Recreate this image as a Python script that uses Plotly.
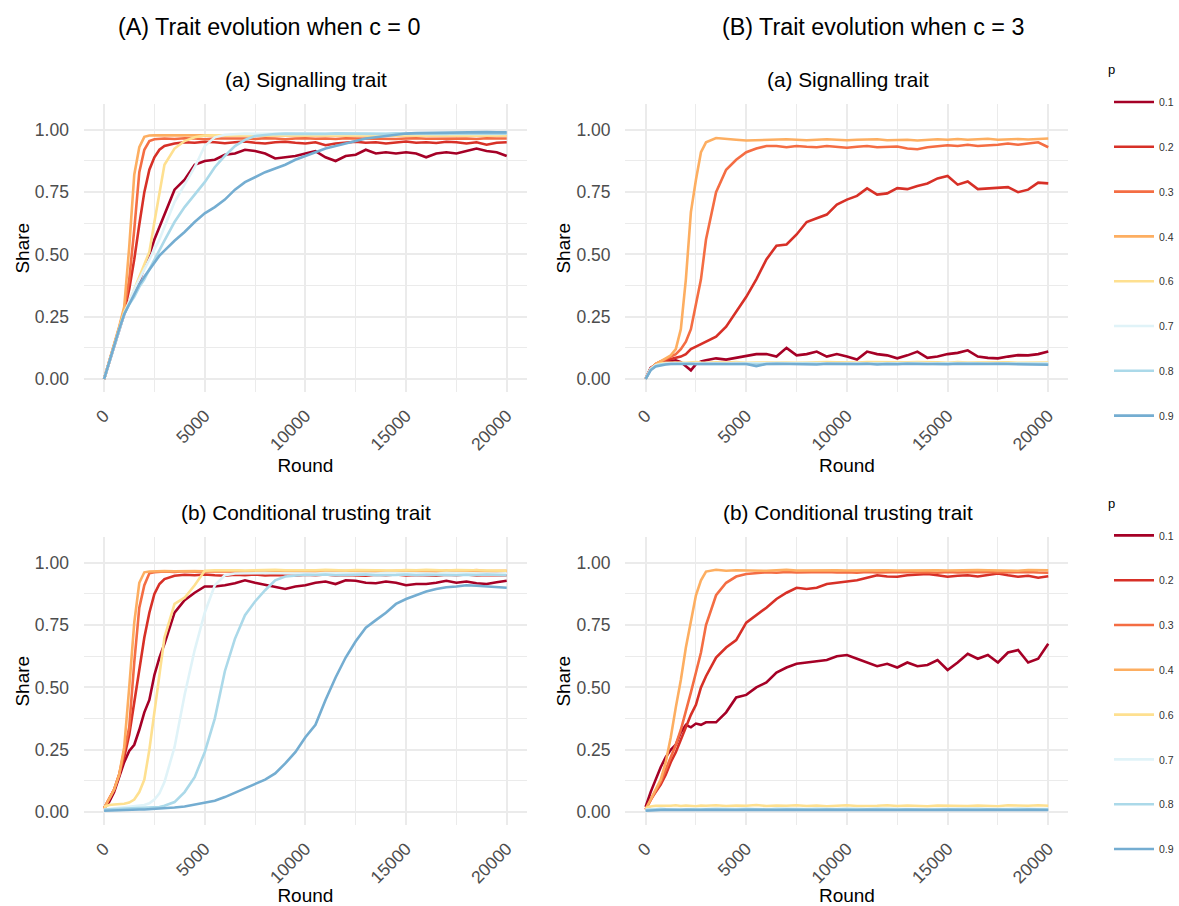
import plotly.graph_objects as go

# ---------------- data ----------------
rounds = [0, 250, 500, 750, 1000, 1250, 1500, 1750, 2000, 2250, 2500, 2750, 3000,
          3500, 4000, 4500, 5000, 5500, 6000, 6500, 7000, 7500, 8000, 8500, 9000, 9500, 10000,
          10500, 11000, 11500, 12000, 12500, 13000, 13500, 14000, 14500, 15000, 15500, 16000,
          16500, 17000, 17500, 18000, 18500, 19000, 19500, 20000]

p_labels = ["0.1", "0.2", "0.3", "0.4", "0.6", "0.7", "0.8", "0.9"]
p_colors = ["#a50026", "#d73027", "#f46d43", "#fdae61", "#fee090", "#e0f3f8", "#abd9e9", "#74add1"]

x_ticks = [0, 5000, 10000, 15000, 20000]
y_ticks = [0.0, 0.25, 0.5, 0.75, 1.0]

# (A)(a) Signalling trait, c = 0
sig_c0_p01 = [0, 0.065, 0.13, 0.195, 0.26, 0.31, 0.35, 0.39, 0.45, 0.5, 0.56, 0.61, 0.66,
              0.76, 0.8, 0.86, 0.875, 0.88, 0.9, 0.905, 0.92, 0.915, 0.905, 0.885, 0.89, 0.895, 0.905,
              0.915, 0.89, 0.875, 0.895, 0.9, 0.92, 0.905, 0.91, 0.905, 0.91, 0.905, 0.89,
              0.905, 0.91, 0.905, 0.915, 0.925, 0.915, 0.91, 0.895]
sig_c0_p02 = [0, 0.066, 0.132, 0.2, 0.27, 0.36, 0.48, 0.62, 0.75, 0.84, 0.89, 0.92, 0.935,
              0.945, 0.95, 0.948, 0.952, 0.95, 0.946, 0.95, 0.953, 0.948, 0.945, 0.95, 0.952, 0.948, 0.945,
              0.95, 0.938, 0.945, 0.95, 0.952, 0.948, 0.95, 0.945, 0.95, 0.953, 0.948, 0.95,
              0.947, 0.952, 0.95, 0.945, 0.95, 0.94, 0.948, 0.95]
sig_c0_p03 = [0, 0.066, 0.135, 0.205, 0.28, 0.4, 0.6, 0.83, 0.92, 0.955, 0.962, 0.965, 0.965,
              0.963, 0.966, 0.965, 0.962, 0.965, 0.966, 0.964, 0.965, 0.963, 0.966, 0.965, 0.962, 0.965, 0.966,
              0.964, 0.965, 0.963, 0.966, 0.965, 0.964, 0.966, 0.965, 0.963, 0.965, 0.966, 0.964,
              0.965, 0.966, 0.964, 0.965, 0.963, 0.966, 0.965, 0.965]
sig_c0_p04 = [0, 0.067, 0.137, 0.21, 0.29, 0.53, 0.82, 0.93, 0.972, 0.977, 0.978, 0.978, 0.977,
              0.978, 0.977, 0.978, 0.978, 0.977, 0.978, 0.977, 0.978, 0.978, 0.977, 0.978, 0.977, 0.978, 0.978,
              0.977, 0.978, 0.977, 0.978, 0.978, 0.977, 0.978, 0.977, 0.978, 0.978, 0.977, 0.978,
              0.977, 0.978, 0.978, 0.977, 0.978, 0.977, 0.978, 0.977]
sig_c0_p06 = [0, 0.066, 0.134, 0.2, 0.27, 0.31, 0.36, 0.41, 0.46, 0.51, 0.63, 0.75, 0.86,
              0.925, 0.955, 0.97, 0.977, 0.978, 0.977, 0.978, 0.977, 0.978, 0.977, 0.976, 0.978, 0.977, 0.978,
              0.977, 0.976, 0.978, 0.977, 0.978, 0.977, 0.976, 0.978, 0.977, 0.978, 0.977, 0.976,
              0.978, 0.977, 0.978, 0.977, 0.976, 0.978, 0.977, 0.977]
sig_c0_p07 = [0, 0.066, 0.133, 0.2, 0.26, 0.31, 0.36, 0.4, 0.44, 0.48, 0.52, 0.56, 0.61,
              0.71, 0.78, 0.85, 0.935, 0.97, 0.98, 0.983, 0.985, 0.984, 0.985, 0.986, 0.985, 0.984, 0.985,
              0.986, 0.985, 0.984, 0.985, 0.986, 0.985, 0.984, 0.985, 0.986, 0.985, 0.984, 0.985,
              0.986, 0.985, 0.984, 0.985, 0.986, 0.985, 0.984, 0.985]
sig_c0_p08 = [0, 0.066, 0.133, 0.2, 0.26, 0.3, 0.33, 0.37, 0.4, 0.44, 0.48, 0.52, 0.555,
              0.63, 0.69, 0.74, 0.79, 0.85, 0.895, 0.935, 0.96, 0.975, 0.98, 0.983, 0.985, 0.984, 0.986,
              0.985, 0.984, 0.986, 0.985, 0.984, 0.986, 0.985, 0.984, 0.986, 0.985, 0.984, 0.986,
              0.985, 0.984, 0.986, 0.985, 0.984, 0.986, 0.985, 0.985]
sig_c0_p09 = [0, 0.068, 0.136, 0.2, 0.26, 0.3, 0.34, 0.38, 0.41, 0.44, 0.47, 0.495, 0.515,
              0.555, 0.59, 0.63, 0.665, 0.69, 0.72, 0.76, 0.79, 0.81, 0.83, 0.845, 0.86, 0.88, 0.895,
              0.91, 0.925, 0.935, 0.945, 0.955, 0.965, 0.97, 0.975, 0.98, 0.985, 0.987, 0.988,
              0.989, 0.99, 0.99, 0.991, 0.99, 0.991, 0.99, 0.99]

# (B)(a) Signalling trait, c = 3
sig_c3_p01 = [0, 0.045, 0.058, 0.065, 0.07, 0.072, 0.075, 0.068, 0.05, 0.035, 0.06, 0.07, 0.075,
              0.083, 0.078, 0.085, 0.092, 0.1, 0.1, 0.09, 0.125, 0.095, 0.1, 0.11, 0.09, 0.1, 0.09,
              0.078, 0.11, 0.1, 0.095, 0.083, 0.095, 0.11, 0.085, 0.09, 0.1, 0.105, 0.115,
              0.09, 0.085, 0.083, 0.09, 0.096, 0.095, 0.1, 0.11]
sig_c3_p02 = [0, 0.04, 0.06, 0.07, 0.075, 0.08, 0.085, 0.09, 0.1, 0.12, 0.13, 0.14, 0.15,
              0.17, 0.21, 0.27, 0.33, 0.4, 0.48, 0.535, 0.54, 0.58, 0.63, 0.645, 0.66, 0.7, 0.72,
              0.735, 0.765, 0.74, 0.745, 0.766, 0.762, 0.775, 0.785, 0.805, 0.815, 0.78, 0.793,
              0.762, 0.765, 0.766, 0.77, 0.75, 0.76, 0.788, 0.785]
sig_c3_p03 = [0, 0.04, 0.06, 0.07, 0.08, 0.09, 0.1, 0.12, 0.15, 0.2, 0.3, 0.4, 0.56,
              0.75, 0.84, 0.88, 0.91, 0.925, 0.935, 0.935, 0.93, 0.935, 0.932, 0.93, 0.935, 0.93, 0.928,
              0.932, 0.935, 0.93, 0.93, 0.933, 0.925, 0.922, 0.93, 0.935, 0.938, 0.935, 0.94,
              0.935, 0.937, 0.94, 0.945, 0.94, 0.945, 0.95, 0.93]
sig_c3_p04 = [0, 0.04, 0.06, 0.07, 0.083, 0.095, 0.12, 0.2, 0.4, 0.67, 0.8, 0.91, 0.95,
              0.967, 0.965, 0.96, 0.957, 0.958, 0.96, 0.96, 0.962, 0.96, 0.958, 0.96, 0.962, 0.96, 0.958,
              0.96, 0.96, 0.962, 0.958, 0.96, 0.96, 0.957, 0.96, 0.962, 0.96, 0.963, 0.96,
              0.962, 0.964, 0.96, 0.962, 0.963, 0.961, 0.963, 0.965]
sig_c3_p06 = [0, 0.04, 0.055, 0.062, 0.065, 0.066, 0.068, 0.066, 0.065, 0.067, 0.068, 0.066, 0.065,
              0.067, 0.066, 0.068, 0.065, 0.066, 0.067, 0.068, 0.066, 0.065, 0.067, 0.066, 0.068, 0.067, 0.065,
              0.066, 0.068, 0.067, 0.066, 0.065, 0.067, 0.068, 0.066, 0.067, 0.065, 0.068, 0.066,
              0.067, 0.066, 0.068, 0.067, 0.065, 0.066, 0.068, 0.066]
sig_c3_p07 = [0, 0.04, 0.055, 0.06, 0.062, 0.063, 0.062, 0.064, 0.063, 0.062, 0.063, 0.064, 0.062,
              0.063, 0.062, 0.064, 0.063, 0.062, 0.063, 0.064, 0.062, 0.063, 0.064, 0.062, 0.063, 0.062, 0.064,
              0.063, 0.062, 0.063, 0.064, 0.062, 0.063, 0.064, 0.063, 0.062, 0.063, 0.064, 0.062,
              0.063, 0.062, 0.064, 0.063, 0.062, 0.063, 0.062, 0.063]
sig_c3_p08 = [0, 0.038, 0.052, 0.058, 0.06, 0.061, 0.062, 0.06, 0.061, 0.062, 0.06, 0.061, 0.062,
              0.061, 0.06, 0.062, 0.061, 0.06, 0.061, 0.062, 0.06, 0.061, 0.062, 0.061, 0.06, 0.062, 0.061,
              0.06, 0.061, 0.062, 0.06, 0.061, 0.062, 0.061, 0.06, 0.062, 0.061, 0.06, 0.061,
              0.062, 0.06, 0.061, 0.062, 0.061, 0.06, 0.061, 0.06]
sig_c3_p09 = [0, 0.035, 0.05, 0.055, 0.058, 0.06, 0.06, 0.061, 0.06, 0.059, 0.06, 0.061, 0.06,
              0.059, 0.06, 0.061, 0.06, 0.052, 0.06, 0.061, 0.06, 0.059, 0.06, 0.058, 0.061, 0.06, 0.059,
              0.06, 0.061, 0.058, 0.06, 0.059, 0.061, 0.06, 0.062, 0.06, 0.059, 0.061, 0.06,
              0.059, 0.06, 0.061, 0.06, 0.059, 0.06, 0.058, 0.057]

# (A)(b) Conditional trusting trait, c = 0
tru_c0_p01 = [0.015, 0.04, 0.08, 0.14, 0.2, 0.245, 0.27, 0.33, 0.4, 0.45, 0.55, 0.62, 0.675,
              0.8, 0.85, 0.88, 0.905, 0.905, 0.91, 0.918, 0.93, 0.92, 0.912, 0.905, 0.895, 0.905, 0.91,
              0.92, 0.925, 0.915, 0.93, 0.928, 0.92, 0.918, 0.925, 0.92, 0.91, 0.915, 0.915,
              0.92, 0.928, 0.92, 0.925, 0.918, 0.915, 0.922, 0.928]
tru_c0_p02 = [0.015, 0.05, 0.09, 0.15, 0.22, 0.31, 0.44, 0.57, 0.7, 0.8, 0.875, 0.915, 0.935,
              0.948, 0.952, 0.95, 0.953, 0.95, 0.948, 0.952, 0.95, 0.953, 0.949, 0.951, 0.95, 0.948, 0.952,
              0.95, 0.953, 0.949, 0.951, 0.95, 0.948, 0.952, 0.95, 0.953, 0.949, 0.951, 0.95,
              0.948, 0.952, 0.95, 0.953, 0.949, 0.951, 0.95, 0.95]
tru_c0_p03 = [0.015, 0.05, 0.09, 0.15, 0.25, 0.34, 0.6, 0.82, 0.91, 0.958, 0.962, 0.964, 0.965,
              0.963, 0.966, 0.964, 0.965, 0.963, 0.966, 0.964, 0.965, 0.963, 0.966, 0.964, 0.965, 0.963, 0.966,
              0.964, 0.965, 0.963, 0.966, 0.964, 0.965, 0.963, 0.966, 0.964, 0.965, 0.963, 0.966,
              0.964, 0.965, 0.963, 0.966, 0.964, 0.965, 0.963, 0.965]
tru_c0_p04 = [0.015, 0.05, 0.09, 0.15, 0.26, 0.5, 0.76, 0.92, 0.962, 0.965, 0.966, 0.965, 0.967,
              0.966, 0.968, 0.967, 0.966, 0.968, 0.967, 0.969, 0.966, 0.968, 0.967, 0.966, 0.968, 0.967, 0.969,
              0.966, 0.968, 0.967, 0.966, 0.968, 0.967, 0.969, 0.966, 0.968, 0.967, 0.966, 0.968,
              0.967, 0.969, 0.966, 0.968, 0.971, 0.967, 0.969, 0.968]
tru_c0_p06 = [0.02, 0.028, 0.03, 0.03, 0.033, 0.038, 0.05, 0.08, 0.13, 0.25, 0.4, 0.56, 0.7,
              0.835, 0.86, 0.91, 0.968, 0.97, 0.971, 0.97, 0.969, 0.971, 0.97, 0.972, 0.97, 0.969, 0.971,
              0.97, 0.972, 0.97, 0.969, 0.971, 0.97, 0.972, 0.97, 0.969, 0.971, 0.97, 0.972,
              0.97, 0.969, 0.971, 0.97, 0.972, 0.97, 0.969, 0.968]
tru_c0_p07 = [0.01, 0.012, 0.015, 0.017, 0.018, 0.02, 0.022, 0.025, 0.028, 0.035, 0.05, 0.075, 0.12,
              0.26, 0.47, 0.65, 0.8, 0.91, 0.95, 0.957, 0.958, 0.957, 0.959, 0.958, 0.957, 0.959, 0.958,
              0.957, 0.959, 0.958, 0.957, 0.959, 0.958, 0.957, 0.959, 0.958, 0.957, 0.959, 0.958,
              0.957, 0.959, 0.958, 0.957, 0.959, 0.958, 0.957, 0.958]
tru_c0_p08 = [0.01, 0.011, 0.012, 0.013, 0.013, 0.014, 0.015, 0.015, 0.016, 0.017, 0.018, 0.02, 0.025,
              0.04, 0.08, 0.14, 0.24, 0.375, 0.565, 0.695, 0.79, 0.845, 0.89, 0.93, 0.945, 0.95, 0.952,
              0.951, 0.953, 0.95, 0.952, 0.951, 0.953, 0.95, 0.952, 0.951, 0.953, 0.95, 0.952,
              0.951, 0.953, 0.95, 0.952, 0.951, 0.953, 0.95, 0.95]
tru_c0_p09 = [0.005, 0.006, 0.007, 0.008, 0.008, 0.009, 0.009, 0.01, 0.01, 0.011, 0.011, 0.012, 0.013,
              0.018, 0.022, 0.03, 0.035, 0.045, 0.06, 0.077, 0.095, 0.11, 0.13, 0.155, 0.195, 0.24, 0.3,
              0.35, 0.45, 0.54, 0.62, 0.685, 0.74, 0.77, 0.8, 0.835, 0.855, 0.87, 0.885,
              0.895, 0.902, 0.905, 0.91, 0.908, 0.905, 0.902, 0.9]

# (B)(b) Conditional trusting trait, c = 3
tru_c3_p01 = [0.02, 0.08, 0.13, 0.18, 0.22, 0.25, 0.27, 0.32, 0.35, 0.34, 0.355, 0.35, 0.36,
              0.36, 0.4, 0.46, 0.47, 0.5, 0.52, 0.56, 0.58, 0.595, 0.6, 0.605, 0.61, 0.625, 0.63,
              0.615, 0.6, 0.585, 0.595, 0.58, 0.6, 0.585, 0.59, 0.61, 0.57, 0.6, 0.635,
              0.615, 0.63, 0.6, 0.64, 0.65, 0.6, 0.615, 0.675]
tru_c3_p02 = [0.01, 0.05, 0.08, 0.11, 0.15, 0.2, 0.24, 0.29, 0.34, 0.39, 0.43, 0.5, 0.545,
              0.62, 0.66, 0.69, 0.76, 0.79, 0.82, 0.855, 0.88, 0.9, 0.895, 0.9, 0.915, 0.92, 0.925,
              0.93, 0.94, 0.95, 0.945, 0.944, 0.95, 0.952, 0.955, 0.95, 0.944, 0.948, 0.95,
              0.945, 0.952, 0.957, 0.95, 0.944, 0.948, 0.94, 0.946]
tru_c3_p03 = [0.01, 0.05, 0.085, 0.12, 0.17, 0.22, 0.27, 0.33, 0.4, 0.48, 0.56, 0.64, 0.75,
              0.87, 0.92, 0.945, 0.955, 0.96, 0.962, 0.96, 0.963, 0.961, 0.962, 0.96, 0.963, 0.961, 0.962,
              0.96, 0.963, 0.961, 0.962, 0.96, 0.963, 0.961, 0.962, 0.96, 0.963, 0.961, 0.962,
              0.96, 0.963, 0.961, 0.962, 0.96, 0.963, 0.961, 0.96]
tru_c3_p04 = [0.01, 0.05, 0.09, 0.13, 0.2, 0.3, 0.42, 0.53, 0.66, 0.77, 0.87, 0.93, 0.965,
              0.972, 0.968, 0.97, 0.969, 0.971, 0.968, 0.97, 0.972, 0.969, 0.97, 0.968, 0.971, 0.97, 0.969,
              0.97, 0.968, 0.971, 0.97, 0.969, 0.97, 0.968, 0.971, 0.97, 0.969, 0.97, 0.968,
              0.971, 0.97, 0.969, 0.97, 0.968, 0.971, 0.97, 0.97]
tru_c3_p06 = [0.015, 0.022, 0.025, 0.024, 0.026, 0.025, 0.027, 0.024, 0.026, 0.025, 0.023, 0.026, 0.025,
              0.027, 0.024, 0.026, 0.025, 0.028, 0.024, 0.026, 0.025, 0.027, 0.024, 0.026, 0.023, 0.025, 0.027,
              0.024, 0.026, 0.025, 0.027, 0.024, 0.026, 0.025, 0.023, 0.026, 0.025, 0.027, 0.024,
              0.026, 0.025, 0.023, 0.027, 0.026, 0.025, 0.027, 0.025]
tru_c3_p07 = [0.01, 0.012, 0.013, 0.014, 0.013, 0.012, 0.014, 0.013, 0.012, 0.013, 0.014, 0.012, 0.013,
              0.014, 0.012, 0.013, 0.014, 0.013, 0.012, 0.014, 0.013, 0.012, 0.013, 0.014, 0.012, 0.013, 0.014,
              0.012, 0.013, 0.014, 0.013, 0.012, 0.014, 0.013, 0.012, 0.013, 0.014, 0.012, 0.013,
              0.014, 0.013, 0.012, 0.013, 0.014, 0.012, 0.013, 0.013]
tru_c3_p08 = [0.008, 0.01, 0.011, 0.012, 0.011, 0.01, 0.012, 0.011, 0.01, 0.011, 0.012, 0.01, 0.011,
              0.012, 0.01, 0.011, 0.012, 0.011, 0.01, 0.012, 0.011, 0.01, 0.011, 0.012, 0.01, 0.011, 0.012,
              0.01, 0.011, 0.012, 0.011, 0.01, 0.012, 0.011, 0.01, 0.011, 0.012, 0.01, 0.011,
              0.012, 0.011, 0.01, 0.011, 0.012, 0.01, 0.011, 0.011]
tru_c3_p09 = [0.005, 0.007, 0.008, 0.008, 0.009, 0.008, 0.007, 0.008, 0.009, 0.008, 0.007, 0.008, 0.009,
              0.008, 0.007, 0.008, 0.009, 0.008, 0.007, 0.008, 0.009, 0.008, 0.007, 0.008, 0.009, 0.008, 0.007,
              0.008, 0.009, 0.008, 0.007, 0.008, 0.009, 0.008, 0.007, 0.008, 0.009, 0.008, 0.007,
              0.008, 0.009, 0.008, 0.007, 0.008, 0.009, 0.008, 0.008]

panels = [
    ("x", "y", "top", [sig_c0_p01, sig_c0_p02, sig_c0_p03, sig_c0_p04, sig_c0_p06, sig_c0_p07, sig_c0_p08, sig_c0_p09], True, "legend"),
    ("x2", "y2", "top", [sig_c3_p01, sig_c3_p02, sig_c3_p03, sig_c3_p04, sig_c3_p06, sig_c3_p07, sig_c3_p08, sig_c3_p09], False, "legend"),
    ("x3", "y3", "bot", [tru_c0_p01, tru_c0_p02, tru_c0_p03, tru_c0_p04, tru_c0_p06, tru_c0_p07, tru_c0_p08, tru_c0_p09], True, "legend2"),
    ("x4", "y4", "bot", [tru_c3_p01, tru_c3_p02, tru_c3_p03, tru_c3_p04, tru_c3_p06, tru_c3_p07, tru_c3_p08, tru_c3_p09], False, "legend2"),
]

# ---------------- figure ----------------
W, H = 1179, 906
FONT = "Liberation Sans, Arial, Helvetica, sans-serif"
GRID = "#ebebeb"

fig = go.Figure()
for xa, ya, grp, series, show, leg in panels:
    for lab, col, vals in zip(p_labels, p_colors, series):
        assert len(vals) == len(rounds), (xa, lab, len(vals))
        fig.add_trace(go.Scatter(
            x=rounds, y=vals, mode="lines", name=lab,
            line=dict(color=col, width=2.6),
            xaxis=xa, yaxis=ya, legendgroup=grp + lab,
            showlegend=show, legend=leg, hoverinfo="skip"))


def px_x(v):
    return v / W


def px_y(v):
    return 1 - v / H


col_dom = [[px_x(84), px_x(527.3)], [px_x(626), px_x(1069.3)]]
row_dom = [[px_y(392.1), px_y(104.3)], [px_y(825.1), px_y(537.3)]]

axis_common_x = dict(range=[-1000, 21000], tickmode="array", tickvals=x_ticks,
                     ticktext=[str(v) for v in x_ticks], tickangle=-45,
                     showgrid=True, gridcolor=GRID, gridwidth=1.8, zeroline=False, showline=False,
                     ticks="", ticklabelstandoff=9,
                     tickfont=dict(size=17.5, color="#4d4d4d", family=FONT),
                     minor=dict(dtick=2500, tick0=0, showgrid=True, gridcolor=GRID, gridwidth=1),
                     title=dict(text="Round", font=dict(size=19, color="black", family=FONT), standoff=5))
axis_common_y = dict(range=[-0.0525, 1.1025], tickmode="array", tickvals=y_ticks,
                     ticktext=["%.2f" % v for v in y_ticks],
                     showgrid=True, gridcolor=GRID, gridwidth=1.8, zeroline=False, showline=False,
                     ticks="", ticklabelstandoff=14,
                     tickfont=dict(size=17.5, color="#4d4d4d", family=FONT),
                     minor=dict(dtick=0.125, tick0=0, showgrid=True, gridcolor=GRID, gridwidth=1),
                     title=dict(text="Share", font=dict(size=19, color="black", family=FONT), standoff=0))

layout = dict(width=W, height=H, margin=dict(l=0, r=0, t=0, b=0),
              paper_bgcolor="white", plot_bgcolor="white",
              font=dict(family=FONT, color="black"))
idx = 0
for r in range(2):
    for c in range(2):
        idx += 1
        sfx = "" if idx == 1 else str(idx)
        layout["xaxis" + sfx] = dict(axis_common_x, domain=col_dom[c], anchor="y" + sfx)
        layout["yaxis" + sfx] = dict(axis_common_y, domain=row_dom[r], anchor="x" + sfx)

leg_common = dict(xanchor="left", yanchor="top", bgcolor="rgba(0,0,0,0)",
                  font=dict(size=10.5, color="#333333", family=FONT),
                  tracegroupgap=25.8, itemwidth=40)
layout["legend"] = dict(leg_common, x=px_x(1110), y=px_y(87.5))
layout["legend2"] = dict(leg_common, x=px_x(1110), y=px_y(520.9))

fig.update_layout(**layout)

titles = [
    ("(A) Trait evolution when c = 0", 269.5, 27, 23.3),
    ("(B) Trait evolution when c = 3", 873.5, 27, 23.3),
    ("(a) Signalling trait", 306.5, 79, 20.8),
    ("(a) Signalling trait", 848.5, 79, 20.8),
    ("(b) Conditional trusting trait", 306.5, 512, 20.8),
    ("(b) Conditional trusting trait", 848.5, 512, 20.8),
    ("p", 1112, 70, 13),
    ("p", 1112, 503.5, 13),
]
for txt, cx, cy, fs in titles:
    fig.add_annotation(text=txt, x=px_x(cx), y=px_y(cy), xref="paper", yref="paper",
                       xanchor="center", yanchor="middle", showarrow=False,
                       font=dict(size=fs, color="black", family=FONT))

fig.write_html("out.html", config={"displayModeBar": False},
               post_script="document.body.style.margin='0px';")
